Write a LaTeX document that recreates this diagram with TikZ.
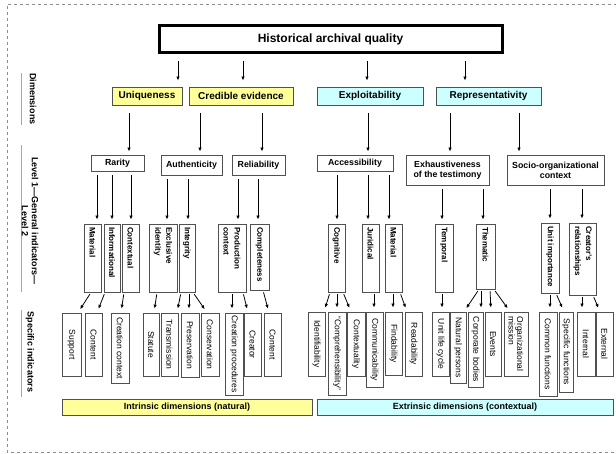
\documentclass[tikz,border=0pt]{standalone}
\usepackage{fontspec}
\setmainfont{Liberation Sans}
\usetikzlibrary{arrows.meta}
\definecolor{yel}{HTML}{FFFF99}
\definecolor{cya}{HTML}{CCFFFF}
\definecolor{bord}{HTML}{505050}
\newcommand\bx[6][]{\node[#1, minimum width={(#5-#3)*1pt}, minimum height={(#6-#4)*1pt}] (#2) at ({(#3+#5)/2},{(#4+#6)/2})}
\newcommand\arw[6]{\draw[arr, shorten <=#5pt, shorten >=#6pt] (#1.south -| #2,0) -- (#3.north -| #4,0);}
\begin{document}
\begin{tikzpicture}[x=1pt,y=-1pt,
  arr/.style={-{Latex[length=4pt,width=3.4pt]}, line width=0.8pt},
  titlebox/.style={draw=black, line width=3pt, inner sep=0, font=\bfseries\fontsize{12}{14}\selectfont},
  dimbox/.style={draw=bord, line width=0.8pt, inner sep=0, font=\bfseries\fontsize{10}{12}\selectfont},
  lonebox/.style={draw=bord, line width=0.8pt, inner sep=0, align=center, font=\bfseries\fontsize{8.8}{10}\selectfont},
  ltwobox/.style={draw=bord, line width=0.8pt, inner sep=0},
  vttwo/.style={rotate=-90, anchor=west, inner sep=0, align=left, font=\bfseries\fontsize{8}{11}\selectfont},
  sbox/.style={draw=bord, line width=0.8pt, inner sep=0},
  vts/.style={rotate=-90, inner sep=0, align=left, font=\fontsize{8.5}{8.5}\selectfont},
  sidelab/.style={rotate=-90, inner sep=0, align=center, font=\bfseries\fontsize{9}{10}\selectfont},
  sideline/.style={draw=black!35, line width=0.8pt}]
\useasboundingbox (0,0) rectangle (616,454);
\draw[black!45, dashed, line width=0.6pt] (617,4) -- (7,4) -- (7,452) -- (617,452);

% side labels
\coordinate (d1) at (21,73); \coordinate (d2) at (21,125);
\coordinate (g1) at (21,145); \coordinate (g2) at (21,292);
\coordinate (s1l) at (21,310); \coordinate (s2l) at (21,397);
\draw[sideline] (d1) -- (d2);
\draw[sideline] (g1) -- (g2);
\draw[sideline] (s1l) -- (s2l);
\node[sidelab] (labdim) at (33,99) {Dimensions};
\node[sidelab] (lablev) at (30,221) {Level 1---General indicators---\\Level 2};
\node[sidelab] (labspec) at (30,352) {Specific indicators};

% title
\bx[titlebox]{title}{159}{26}{502}{53} {Historical archival quality};

% dimensions
\bx[dimbox,fill=yel]{uniq}{112}{87}{182}{105} {Uniqueness};
\bx[dimbox,fill=yel]{cred}{189}{87}{293}{105} {Credible evidence};
\bx[dimbox,fill=cya]{expl}{317}{87}{423}{105} {Exploitability};
\bx[dimbox,fill=cya]{repr}{436}{87}{541}{105} {Representativity};

% level 1
\bx[lonebox]{rari}{91}{155}{144}{171} {Rarity};
\bx[lonebox]{auth}{161}{155}{222}{175} {Authenticity};
\bx[lonebox]{reli}{232}{155}{285}{175} {Reliability};
\bx[lonebox]{acce}{317}{155}{393}{171} {Accessibility};
\bx[lonebox]{exha}{406}{155}{489}{185} {Exhaustiveness\\of the testimony};
\bx[lonebox]{soci}{507}{155}{604}{185} {Socio-organizational\\context};

% level 2
\bx[ltwobox]{mat}{84}{224}{101}{292} {};
\bx[ltwobox]{inf}{104}{224}{120}{292} {};
\bx[ltwobox]{ctx}{122}{224}{139}{292} {};
\bx[ltwobox]{exc}{149}{224}{177}{292} {};
\bx[ltwobox]{int}{179}{224}{195}{292} {};
\bx[ltwobox]{pro}{218}{224}{246}{292} {};
\bx[ltwobox]{com}{250}{224}{269}{290} {};
\bx[ltwobox]{cog}{328}{224}{345}{292} {};
\bx[ltwobox]{jur}{362}{224}{379}{292} {};
\bx[ltwobox]{mtb}{385}{224}{402}{292} {};
\bx[ltwobox]{tem}{435}{224}{453}{292} {};
\bx[ltwobox]{the}{476}{224}{495}{289} {};
\bx[ltwobox]{uni}{541}{223}{559}{293} {};
\bx[ltwobox]{cre}{569}{223}{596}{295} {};
\node[vttwo] (tmat) at (mat.north |- 0,227) {Material};
\node[vttwo] (tinf) at (inf.north |- 0,227) {Informational};
\node[vttwo] (tctx) at (ctx.north |- 0,227) {Contextual};
\node[vttwo] (texc) at (exc.north |- 0,227) {Exclusive\\identity};
\node[vttwo] (tint) at (int.north |- 0,227) {Integrity};
\node[vttwo] (tpro) at (pro.north |- 0,227) {Production\\context};
\node[vttwo] (tcom) at (com.north |- 0,227) {Completeness};
\node[vttwo] (tcog) at (cog.north |- 0,227) {Cognitive};
\node[vttwo] (tjur) at (jur.north |- 0,227) {Juridical};
\node[vttwo] (tmtb) at (mtb.north |- 0,227) {Material};
\node[vttwo] (ttem) at (tem.north |- 0,227) {Temporal};
\node[vttwo] (tthe) at (the.north |- 0,227) {Thematic};
\node[vttwo] (tuni) at (uni.north |- 0,226) {Unit importance};
\node[vttwo] (tcre) at (cre.north |- 0,226) {Creator's\\relationships};

% specific indicators
\bx[sbox]{sa}{62}{313}{81}{376} {};
\bx[sbox]{sb}{85}{313}{102}{376} {};
\bx[sbox]{sc}{111}{313}{129}{383} {};
\bx[sbox]{sd}{143}{313}{159}{376} {};
\bx[sbox]{se}{161}{313}{178}{376} {};
\bx[sbox]{sf}{181}{313}{199}{377} {};
\bx[sbox]{sg}{201}{313}{219}{376} {};
\bx[sbox]{sh}{225}{313}{243}{395} {};
\bx[sbox]{si}{244}{313}{261}{376} {};
\bx[sbox]{sj}{264}{313}{281}{376} {};
\bx[sbox]{sk}{308}{312}{325}{376} {};
\bx[sbox]{sl}{328}{312}{346}{395} {};
\bx[sbox]{sm}{347}{312}{365}{376} {};
\bx[sbox]{sn}{366}{312}{383}{387} {};
\bx[sbox]{so}{385}{312}{402}{375} {};
\bx[sbox]{sp}{405}{312}{422}{376} {};
\bx[sbox]{sq}{432}{312}{449}{376} {};
\bx[sbox]{sr}{450}{312}{466}{383} {};
\bx[sbox]{ss}{468}{312}{483}{387} {};
\bx[sbox]{st}{485}{312}{501}{376} {};
\bx[sbox]{su}{504}{312}{528}{376} {};
\bx[sbox]{sv}{539}{312}{557}{396} {};
\bx[sbox]{sw}{559}{312}{573}{392} {};
\bx[sbox]{sx}{577}{312}{595}{376} {};
\bx[sbox]{sy}{596}{312}{613}{376} {};
\node[vts] (ta) at (sa) {Support};
\node[vts] (tb) at (sb) {Content};
\node[vts] (tc) at (sc) {Creation context};
\node[vts] (td) at (sd) {Statute};
\node[vts] (te) at (se) {Transmission};
\node[vts] (tf) at (sf) {Preservation};
\node[vts] (tg) at (sg) {Conservation};
\node[vts] (th) at (sh) {Creation procedures};
\node[vts] (ti) at (si) {Creator};
\node[vts] (tj) at (sj) {Content};
\node[vts] (tk) at (sk) {Identifiability};
\node[vts] (tl) at (sl) {“Comprehensibility”};
\node[vts] (tm) at (sm) {Contextuality};
\node[vts] (tn) at (sn) {Communicability};
\node[vts] (to) at (so) {Findability};
\node[vts] (tp) at (sp) {Readability};
\node[vts] (tq) at (sq) {Unit life cycle};
\node[vts] (tr) at (sr) {Natural persons};
\node[vts] (ts) at (ss) {Corporate bodies};
\node[vts] (tt) at (st) {Events};
\node[vts] (tu) at (su) {Organizational\\mission};
\node[vts] (tv) at (sv) {Common functions};
\node[vts] (tw) at (sw) {Specific functions};
\node[vts] (tx) at (sx) {Internal};
\node[vts] (ty) at (sy) {External};

% bottom bars
\bx[dimbox,fill=yel,font=\bfseries\fontsize{9}{10}\selectfont]{intr}{62}{399}{312}{415} {Intrinsic dimensions (natural)};
\bx[dimbox,fill=cya,font=\bfseries\fontsize{9}{10}\selectfont]{extr}{317}{399}{613}{415} {Extrinsic dimensions (contextual)};

% arrows: title -> dimensions
\arw{title}{178}{uniq}{178}{7}{6}
\arw{title}{243}{cred}{243}{7}{6}
\arw{title}{367}{expl}{367}{7}{6}
\arw{title}{465}{repr}{465}{7}{6}
% dimensions -> level 1
\arw{uniq}{129}{rari}{129}{8}{3}
\arw{cred}{200}{auth}{200}{8}{3}
\arw{cred}{262}{reli}{262}{8}{3}
\arw{expl}{368}{acce}{368}{8}{3}
\arw{repr}{450}{exha}{450}{8}{3}
\arw{repr}{519}{soci}{519}{8}{3}
% level 1 -> level 2
\arw{rari}{97}{mat}{97}{4}{4}
\arw{rari}{112}{inf}{112}{4}{4}
\arw{rari}{131}{ctx}{131}{4}{4}
\arw{auth}{167}{exc}{167}{4}{4}
\arw{auth}{188}{int}{188}{4}{4}
\arw{reli}{238}{pro}{238}{4}{4}
\arw{reli}{258}{com}{258}{4}{4}
\arw{acce}{337}{cog}{337}{4}{4}
\arw{acce}{368}{jur}{368}{4}{4}
\arw{acce}{389}{mtb}{389}{4}{4}
\arw{exha}{442}{tem}{442}{4}{4}
\arw{exha}{483}{the}{483}{4}{4}
\arw{soci}{550}{uni}{550}{4}{4}
\arw{soci}{582}{cre}{582}{4}{4}
% level 2 -> specific
\arw{mat}{91}{sa}{78}{2}{4}
\arw{inf}{105}{sb}{97}{2}{4}
\arw{ctx}{124}{sc}{121}{2}{4}
\arw{exc}{157}{sd}{154}{2}{4}
\arw{int}{181}{se}{177}{2}{4}
\arw{int}{189}{sf}{189}{2}{4}
\arw{int}{193}{sg}{207}{2}{4}
\arw{pro}{232}{sh}{232}{2}{4}
\arw{pro}{243}{si}{248}{2}{4}
\arw{com}{263}{sj}{269}{2}{4}
\arw{cog}{330}{sk}{324}{2}{4}
\arw{cog}{337}{sl}{337}{2}{4}
\arw{cog}{343}{sm}{351}{2}{4}
\arw{jur}{374}{sn}{374}{2}{4}
\arw{mtb}{393}{so}{393}{2}{4}
\arw{mtb}{400}{sp}{407}{2}{4}
\arw{tem}{442}{sq}{442}{2}{4}
\arw{the}{479}{sr}{464}{2}{4}
\arw{the}{481}{ss}{481}{2}{4}
\arw{the}{490}{st}{491}{2}{4}
\arw{the}{494}{su}{510}{2}{4}
\arw{uni}{550}{sv}{550}{2}{4}
\arw{uni}{556}{sw}{564}{2}{4}
\arw{cre}{582}{sx}{582}{2}{4}
\arw{cre}{593}{sy}{600}{2}{4}
\end{tikzpicture}
\end{document}
